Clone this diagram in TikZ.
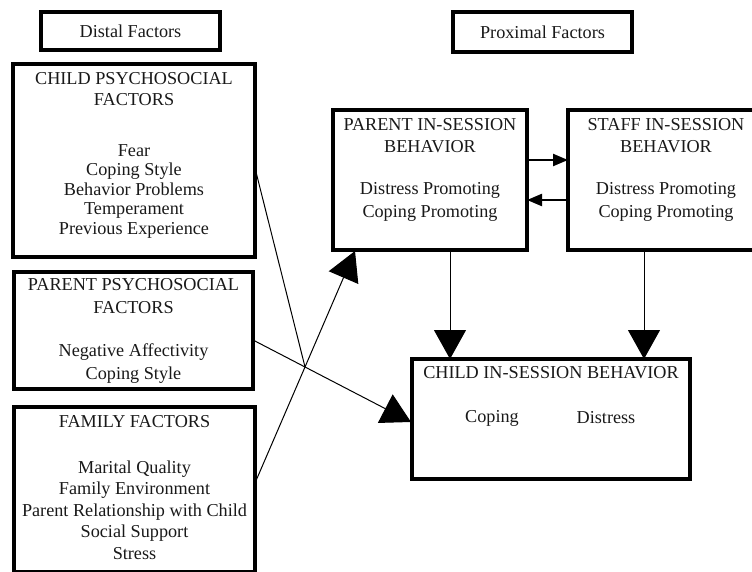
\documentclass[tikz,border=0pt]{standalone}
\usepackage{fontspec}
\setmainfont{Liberation Serif}
\usetikzlibrary{arrows.meta,calc}
\begin{document}
\begin{tikzpicture}[x=1pt,y=-1pt,
  box/.style={draw, line width=3.2pt, inner sep=0pt, outer sep=0pt},
  lbl/.style={font=\fontsize{18.2}{19.5}\selectfont, inner sep=0pt, align=center, text=black!90},
  conn/.style={line width=1pt},
  bigarrow/.style={-{Triangle[length=29pt,width=32pt]}, line width=1pt},
  smallarrow/.style={-{Triangle[length=15pt,width=12pt]}, line width=2.2pt}]
\useasboundingbox (0,0) rectangle (752,572);
\clip (0,0) rectangle (752,572);
% boxes
\node[box, minimum width=179pt, minimum height=38pt] (distal) at (130.5,31) {};
\node[box, minimum width=179pt, minimum height=40pt] (proximal) at (542.5,32) {};
\node[box, minimum width=242pt, minimum height=193pt] (cps) at (134,160.5) {};
\node[box, minimum width=239pt, minimum height=117pt] (pps) at (133.5,330.5) {};
\node[box, minimum width=241pt, minimum height=165pt] (fam) at (134.5,489.5) {};
\node[box, minimum width=194pt, minimum height=140pt] (pis) at (430,180) {};
\node[box, minimum width=196pt, minimum height=140pt] (sis) at (666,180) {};
\node[box, minimum width=278pt, minimum height=120pt] (cis) at (551,419) {};
% texts
\node[lbl] (distalt) at (distal) {Distal Factors};
\node[lbl] (proximalt) at (proximal) {Proximal Factors};
\node[lbl, font=\fontsize{18.2}{21}\selectfont] (cpst) at (134,89.5) {CHILD PSYCHOSOCIAL\\FACTORS};
\node[lbl] (cpsi) at (134,191) {Fear\\Coping Style\\Behavior Problems\\Temperament\\Previous Experience};
\node[lbl, font=\fontsize{18.2}{23}\selectfont] (ppst) at (133.5,296.5) {PARENT PSYCHOSOCIAL\\FACTORS};
\node[lbl, font=\fontsize{18.2}{23}\selectfont] (ppsi) at (133.5,363.5) {Negative Affectivity\\Coping Style};
\node[lbl] (famt) at (134.5,422) {FAMILY FACTORS};
\node[lbl, font=\fontsize{18.2}{21.5}\selectfont] (fami) at (134.5,510) {Marital Quality\\Family Environment\\Parent Relationship with Child\\Social Support\\Stress};
\node[lbl, font=\fontsize{18.2}{22}\selectfont] (pist) at (430,136) {PARENT IN-SESSION\\BEHAVIOR};
\node[lbl, font=\fontsize{18.2}{23}\selectfont] (pisi) at (430,201.5) {Distress Promoting\\Coping Promoting};
\node[lbl, font=\fontsize{18.2}{22}\selectfont] (sist) at (666,136) {STAFF IN-SESSION\\BEHAVIOR};
\node[lbl, font=\fontsize{18.2}{23}\selectfont] (sisi) at (666,201.5) {Distress Promoting\\Coping Promoting};
\node[lbl] (cist) at (551,373) {CHILD IN-SESSION BEHAVIOR};
\node[lbl] (cisc) at (492,418) {Coping};
\node[lbl] (cisd) at (606,418) {Distress};
% connector points
\coordinate (cpsout) at ($(cps.north east)+(0,104)$);
\coordinate (ppsout) at ($(pps.north east)+(0,68)$);
\coordinate (cisin) at ($(cis.north west)+(-1,63)$);
\coordinate (famout) at ($(fam.north east)+(0,76)$);
\coordinate (pisin) at ($(pis.south west)+(22,1)$);
\coordinate (cross) at (intersection of ppsout--cisin and famout--pisin);
\draw[conn] (cpsout) -- (cross);
\draw[bigarrow] (ppsout) -- (cisin);
\draw[bigarrow] (famout) -- (pisin);
% down arrows
\coordinate (pisdown) at ($(pis.south)+(20,0)$);
\coordinate (sisdown) at ($(sis.south)+(-22,0)$);
\draw[bigarrow] (pisdown) -- (pisdown |- cis.north);
\draw[bigarrow] (sisdown) -- (sisdown |- cis.north);
% horizontal arrows
\draw[smallarrow] ($(pis.east)+(0,-20)$) -- ($(sis.west)+(0,-20)$);
\draw[smallarrow] ($(sis.west)+(0,20)$) -- ($(pis.east)+(0,20)$);
\end{tikzpicture}
\end{document}
